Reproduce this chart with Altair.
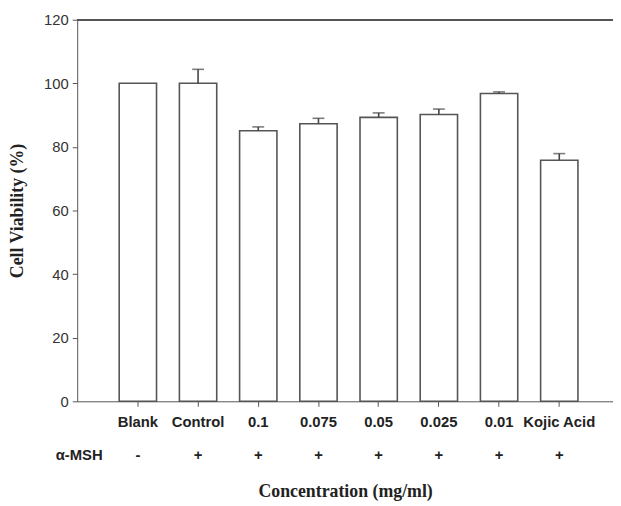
import altair as alt
import pandas as pd

groups = ["Blank", "Control", "0.1", "0.075", "0.05", "0.025", "0.01", "Kojic Acid"]
viability = [100.0, 100.0, 85.1, 87.3, 89.3, 90.2, 96.8, 75.8]
errors = [0.0, 4.4, 1.2, 1.7, 1.4, 1.7, 0.5, 2.1]
msh = ["-", "+", "+", "+", "+", "+", "+", "+"]

df = pd.DataFrame({"group": groups, "v": viability, "err": errors, "msh": msh})
df["top"] = df["v"] + df["err"]
df_err = df[df["err"] > 0]

W, H = 542, 386

x_scale = alt.Scale(paddingInner=0.38, paddingOuter=0.64, align=0.545)
x_enc = alt.X("group:N", sort=groups, scale=x_scale,
              axis=alt.Axis(title="Concentration (mg/ml)", labelAngle=0,
                            labelFont="Liberation Sans", labelFontWeight="bold",
                            labelFontSize=15, labelColor="#222", labelPadding=8,
                            tickSize=5, tickColor="#555", domainColor="#555",
                            titleFont="Liberation Serif", titleFontWeight="bold",
                            titleFontSize=18, titleColor="#222", titlePadding=54))
y_scale = alt.Scale(domain=[0, 120], nice=False)
y_enc = alt.Y("v:Q", scale=y_scale,
              axis=alt.Axis(title="Cell Viability (%)", values=[0, 20, 40, 60, 80, 100, 120],
                            grid=False, labelFont="Liberation Sans", labelFontSize=15,
                            labelColor="#333", tickSize=5, tickColor="#555",
                            domainColor="#555", labelPadding=4,
                            titleFont="Liberation Serif", titleFontWeight="bold",
                            titleFontSize=18, titleColor="#222", titlePadding=17))

base = alt.Chart(df)
bars = base.mark_bar(fill="white", stroke="#555", strokeWidth=1.6).encode(x=x_enc, y=y_enc)

err_rule = alt.Chart(df_err).mark_rule(color="#444", strokeWidth=1.6).encode(
    x=alt.X("group:N", sort=groups, scale=x_scale), y=alt.Y("v:Q", scale=y_scale), y2="top:Q")
err_cap = alt.Chart(df_err).mark_tick(color="#444", thickness=1.6, size=12, orient="horizontal").encode(
    x=alt.X("group:N", sort=groups, scale=x_scale), y=alt.Y("top:Q", scale=y_scale))

top_line = alt.Chart(df).mark_rule(color="#555", strokeWidth=1.4).encode(
    y=alt.datum(120), x=alt.value(0), x2=alt.value(W))

msh_text = base.mark_text(font="Liberation Sans", fontWeight="bold", fontSize=15,
                          color="#222", baseline="middle").encode(
    x=alt.X("group:N", sort=groups, scale=x_scale), y=alt.value(H + 54), text="msh:N")

msh_label = alt.Chart(pd.DataFrame({"t": ["α-MSH"]})).mark_text(
    font="Liberation Sans", fontWeight="bold", fontSize=15, color="#222",
    baseline="middle", align="center").encode(
    x=alt.value(2), y=alt.value(H + 54), text="t:N")

chart = alt.layer(bars, err_rule, err_cap, top_line, msh_text, msh_label).properties(
    width=W, height=H,
    autosize=alt.AutoSizeParams(type="none"),
    padding={"left": 70, "top": 9, "right": 0, "bottom": 100},
).configure_view(stroke=None)

chart.save("out.html", embed_options={"renderer": "svg", "actions": False})
